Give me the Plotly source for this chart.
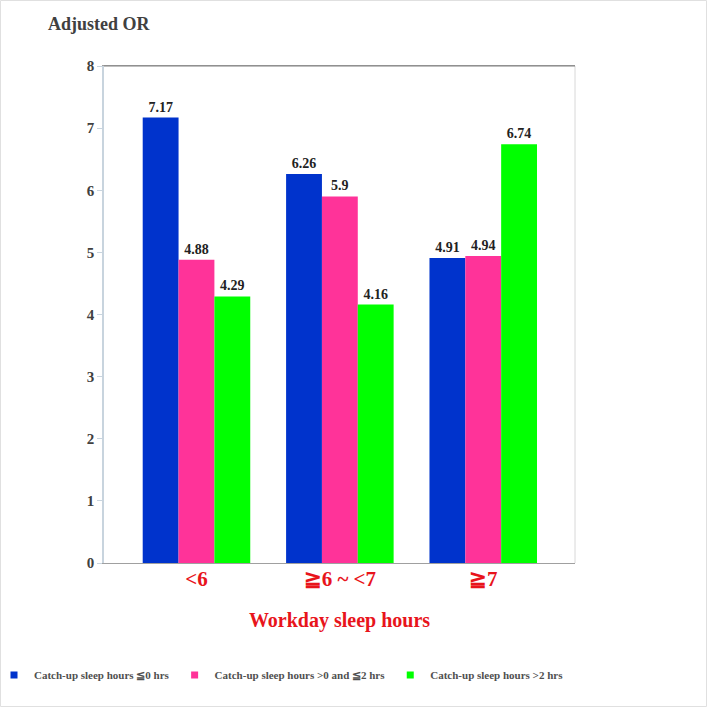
import plotly.graph_objects as go

categories = ["<6", "≧6 ~ <7", "≧7"]
series_names = ["Catch-up sleep hours ≦0 hrs",
                "Catch-up sleep hours >0 and ≦2 hrs",
                "Catch-up sleep hours >2 hrs"]
values_le0 = [7.17, 6.26, 4.91]
values_0to2 = [4.88, 5.90, 4.94]
values_gt2 = [4.29, 4.16, 6.74]
labels_le0 = ["7.17", "6.26", "4.91"]
labels_0to2 = ["4.88", "5.9", "4.94"]
labels_gt2 = ["4.29", "4.16", "6.74"]
colors = ["#0033CC", "#FF3399", "#00FF00"]
y_ticks = [0, 1, 2, 3, 4, 5, 6, 7, 8]

FONT = "Liberation Serif"
L, R, T, B = 104, 133, 66, 145
PW, PH = 708 - L - R, 708 - T - B

fig = go.Figure()
x_idx = list(range(len(categories)))
for name, vals, labs, col in zip(series_names,
                                 [values_le0, values_0to2, values_gt2],
                                 [labels_le0, labels_0to2, labels_gt2],
                                 colors):
    fig.add_trace(go.Bar(
        x=x_idx, y=vals, name=name, marker=dict(color=col, line=dict(width=0)),
        text=labs, textposition="outside", cliponaxis=False,
        textfont=dict(family=FONT, size=14, color="#222222", weight="bold"),
        showlegend=False))
    fig.add_trace(go.Scatter(
        x=[None], y=[None], mode="markers", name=name,
        marker=dict(symbol="square", size=7, color=col)))

fig.update_layout(
    width=708, height=708,
    paper_bgcolor="white", plot_bgcolor="white",
    margin=dict(l=L, r=R, t=T, b=B, autoexpand=False),
    barmode="group", bargap=0.25, bargroupgap=0,
    font=dict(family=FONT, color="#404040"),
    xaxis=dict(
        tickvals=x_idx, ticktext=categories, range=[-0.645, 2.64],
        tickfont=dict(family=FONT, size=21, color="#E8141B", weight="bold"),
        showgrid=False, showline=True, linecolor="#A0A0A0", linewidth=1,
        mirror=True, ticks="", zeroline=False, ticklabelstandoff=-3,
        title=dict(text="Workday sleep hours", standoff=22,
                   font=dict(family=FONT, size=20, color="#E8141B", weight="bold")),
    ),
    yaxis=dict(
        range=[0, 8], tickvals=y_ticks, showgrid=False, zeroline=False,
        showline=True, linecolor="#C8D4DE", linewidth=1.5, mirror=False,
        ticks="outside", ticklen=5, tickcolor="#C8D4DE", ticklabelstandoff=0,
        tickfont=dict(family=FONT, size=15, color="#404040", weight="bold"),
    ),
    legend=dict(orientation="h", xref="paper", yref="paper",
                x=-(L + 6) / PW, y=-(675 - (708 - B)) / PH,
                xanchor="left", yanchor="middle",
                font=dict(family=FONT, size=11, color="#505050", weight="bold"),
                tracegroupgap=0, bgcolor="rgba(0,0,0,0)"),
    shapes=[
        dict(type="line", xref="paper", yref="paper", x0=1, x1=1, y0=0, y1=1,
             line=dict(color="#D8D8D8", width=1)),
        dict(type="line", xref="paper", yref="paper", x0=0, x1=1, y0=1, y1=1,
             line=dict(color="#808080", width=1)),
        dict(type="rect", xref="paper", yref="paper",
             x0=-(L - 0.5) / PW, x1=1 + (R - 1.5) / PW,
             y0=-(B - 1.5) / PH, y1=1 + (T - 0.5) / PH,
             line=dict(color="#E0E0E0", width=1)),
    ],
    annotations=[dict(text="Adjusted OR", xref="paper", yref="paper",
                      x=-(L - 46) / PW, y=1 + (T - 36) / PH,
                      xanchor="left", yanchor="bottom", showarrow=False,
                      font=dict(family=FONT, size=18, color="#404040", weight="bold"))],
)

fig.write_html("out.html", config={"displayModeBar": False},
               post_script="document.body.style.margin='0px';")
